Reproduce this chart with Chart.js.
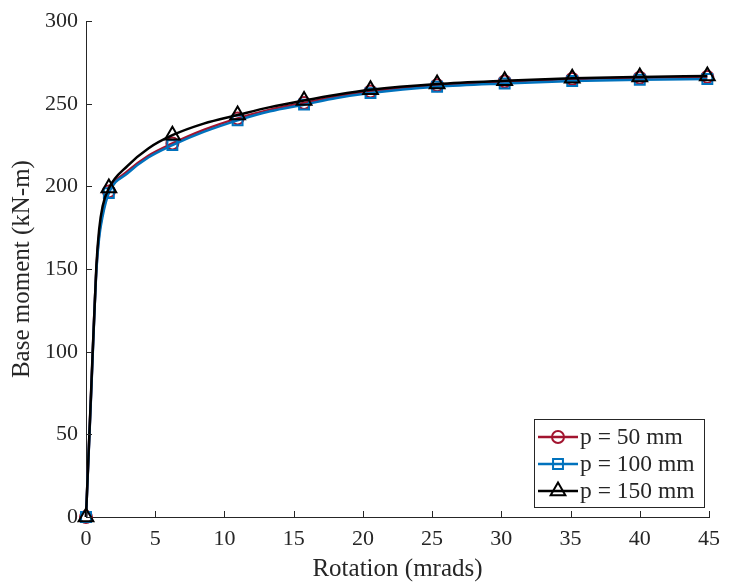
<!DOCTYPE html>
<html>
<head>
<meta charset="utf-8">
<script src="https://cdn.jsdelivr.net/npm/chart.js@4"></script>
<style>
  html, body { margin: 0; padding: 0; background: #fff; }
  #wrap { width: 729px; height: 584px; }
</style>
</head>
<body>
<div id="wrap"><canvas id="momentChart" width="729" height="584"></canvas></div>
<script>
// ─── Data ───────────────────────────────────────────
const rotation = [0, 0.35, 0.75, 0.95, 1.2, 1.65, 3, 4.5, 6.24, 8.5, 10.95, 13.3,
  15.75, 18.1, 20.55, 25.36, 30.24, 35.12, 40, 44.88];
const moment50  = [0, 71, 150, 171, 184, 197, 209.2, 218.6, 226, 234.2, 241.2, 246.5,
  250.5, 254.5, 257.5, 261.3, 263.5, 265, 265.8, 266.3];
const moment100 = [0, 70, 149, 169, 182, 196, 208, 217.5, 225, 233, 240, 245.5,
  249.5, 253.5, 256.5, 260.3, 262.3, 263.8, 264.6, 265];
const moment150 = [0, 72, 152, 174, 188, 199, 212.5, 223, 231, 238, 243.2, 248,
  252, 255.5, 258.5, 262, 264, 265.5, 266.3, 266.8];
const markerAt = [0, 1.65, 6.24, 10.95, 15.75, 20.55, 25.36, 30.24, 35.12, 40, 44.88];
const seriesLabels = ['p = 50 mm', 'p = 100 mm', 'p = 150 mm'];
const xTicks = [0, 5, 10, 15, 20, 25, 30, 35, 40, 45];
const yTicks = [0, 50, 100, 150, 200, 250, 300];

const FONT = "'Liberation Serif', 'Times New Roman', serif";
const AXIS = '#262626';

const styles = [
  { color: '#A2142F', pointStyle: 'circle',   radius: 6 },
  { color: '#0072BD', pointStyle: 'rect',     radius: 7 },
  { color: '#000000', pointStyle: 'triangle', radius: 8.5 },
];

const toPoints = ys => rotation.map((x, i) => ({ x, y: ys[i] }));
const radii = r => rotation.map(x => (markerAt.includes(x) ? r : 0));

const datasets = [moment50, moment100, moment150].map((ys, i) => ({
  label: seriesLabels[i],
  data: toPoints(ys),
  borderColor: styles[i].color,
  backgroundColor: 'rgba(0,0,0,0)',
  borderWidth: 2.5,
  pointStyle: styles[i].pointStyle,
  pointRadius: radii(styles[i].radius),
  pointBorderWidth: 2,
  pointBorderColor: styles[i].color,
  pointBackgroundColor: 'rgba(0,0,0,0)',
  cubicInterpolationMode: 'monotone',
  clip: false,
  order: 3 - i,
}));

// ─── Inward tick marks (MATLAB style) ───────────────
const innerTicks = {
  id: 'innerTicks',
  afterDraw(chart) {
    const { ctx, scales: { x, y } } = chart;
    ctx.save();
    ctx.strokeStyle = AXIS;
    ctx.lineWidth = 1;
    ctx.beginPath();
    xTicks.forEach(v => {
      const px = Math.round(x.getPixelForValue(v)) + 0.5;
      ctx.moveTo(px, y.bottom);
      ctx.lineTo(px, y.bottom - 6);
    });
    yTicks.forEach(v => {
      const py = Math.round(y.getPixelForValue(v)) + 0.5;
      ctx.moveTo(x.left, py);
      ctx.lineTo(x.left + 6, py);
    });
    ctx.stroke();
    ctx.restore();
  },
};

// ─── Legend box in the lower right ──────────────────
const boxLegend = {
  id: 'boxLegend',
  afterDraw(chart) {
    const ctx = chart.ctx;
    const bx = 534, by = 419, bw = 170, bh = 88;
    ctx.save();
    ctx.fillStyle = '#fff';
    ctx.fillRect(bx, by, bw, bh);
    ctx.strokeStyle = AXIS;
    ctx.lineWidth = 1;
    ctx.strokeRect(bx + 0.5, by + 0.5, bw, bh);
    const rows = [437, 464, 491];
    styles.forEach((s, i) => {
      const ry = rows[i];
      ctx.strokeStyle = s.color;
      ctx.lineWidth = 2.5;
      ctx.beginPath();
      ctx.moveTo(538, ry);
      ctx.lineTo(578, ry);
      ctx.stroke();
      ctx.lineWidth = 2;
      ctx.fillStyle = 'rgba(0,0,0,0)';
      Chart.helpers.drawPoint(ctx, {
        pointStyle: s.pointStyle, radius: s.radius, borderWidth: 2, rotation: 0,
      }, 558, ry);
      ctx.fillStyle = AXIS;
      ctx.font = '23.5px ' + FONT;
      ctx.textBaseline = 'middle';
      ctx.textAlign = 'left';
      ctx.fillText(seriesLabels[i], 580, ry + 1);
    });
    ctx.restore();
  },
};

new Chart(document.getElementById('momentChart'), {
  type: 'line',
  data: { datasets },
  plugins: [innerTicks, boxLegend],
  options: {
    responsive: false,
    animation: false,
    layout: { padding: { top: 21, right: 14, left: 0, bottom: 0 } },
    plugins: { legend: { display: false }, tooltip: { enabled: false } },
    scales: {
      x: {
        type: 'linear',
        min: 0, max: 45,
        afterBuildTicks: s => { s.ticks = xTicks.map(v => ({ value: v })); },
        afterFit: s => { s.height = 67; },
        grid: { display: false, drawTicks: false },
        border: { display: true, color: AXIS, width: 1 },
        ticks: { color: AXIS, font: { family: FONT, size: 22 }, padding: 9, maxRotation: 0 },
        title: {
          display: true, text: 'Rotation (mrads)', color: AXIS,
          font: { family: FONT, size: 25 }, padding: { top: 0, bottom: 0 },
        },
      },
      y: {
        type: 'linear',
        min: 0, max: 300,
        afterBuildTicks: s => { s.ticks = yTicks.map(v => ({ value: v })); },
        afterFit: s => { s.width = 86; },
        grid: { display: false, drawTicks: false },
        border: { display: true, color: AXIS, width: 1 },
        ticks: { color: AXIS, font: { family: FONT, size: 22 }, padding: 8 },
        title: {
          display: true, text: 'Base moment (kN-m)', color: AXIS,
          font: { family: FONT, size: 25 }, padding: { top: 7, bottom: 0 },
        },
      },
    },
  },
});
</script>
</body>
</html>
